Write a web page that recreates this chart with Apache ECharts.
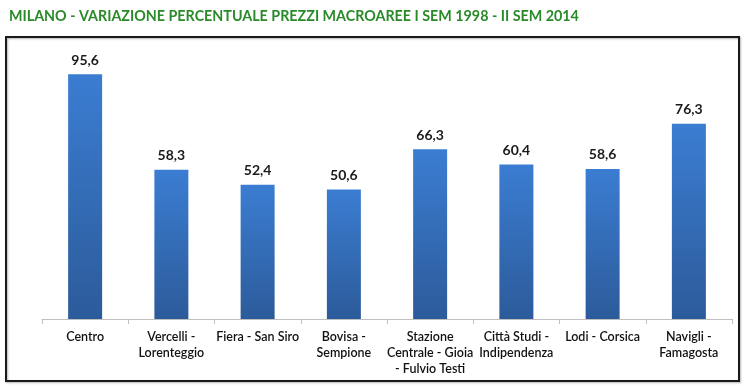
<!DOCTYPE html>
<html>
<head>
<meta charset="utf-8">
<script src="https://cdn.jsdelivr.net/npm/echarts@6/dist/echarts.min.js"></script>
<style>html,body{margin:0;padding:0;background:#fff}#c{width:744px;height:388px}</style>
</head>
<body>
<div id="c"></div>
<script>
var titleText = 'MILANO - VARIAZIONE PERCENTUALE PREZZI MACROAREE I SEM 1998 - II SEM 2014';
var categories = ['Centro', 'Vercelli -\nLorenteggio', 'Fiera - San Siro', 'Bovisa -\nSempione', 'Stazione\nCentrale - Gioia\n- Fulvio Testi', 'Città Studi -\nIndipendenza', 'Lodi - Corsica', 'Navigli -\nFamagosta'];
var values = [95.6, 58.3, 52.4, 50.6, 66.3, 60.4, 58.6, 76.3];

var chart = echarts.init(document.getElementById('c'), null, {renderer: 'canvas'});
chart.setOption({
  animation: false,
  backgroundColor: '#ffffff',
  title: {
    text: titleText,
    left: 4, top: 4,
    textStyle: {fontFamily: 'Lato', fontSize: 14.3, fontWeight: 'bold', color: '#2a8a2a'}
  },
  graphic: [{
    type: 'rect', z: 0,
    shape: {x: 6, y: 37, width: 733, height: 344},
    style: {fill: 'none', stroke: '#1a1a1a', lineWidth: 2, shadowColor: 'rgba(0,0,0,0.3)', shadowBlur: 2, shadowOffsetX: 1, shadowOffsetY: 1}
  }],
  grid: {left: 42, right: 12, top: 63, bottom: 69, containLabel: false},
  xAxis: {
    type: 'category',
    data: categories,
    axisLine: {lineStyle: {color: '#bfbfbf', width: 1}},
    axisTick: {show: true, length: 5, lineStyle: {color: '#bfbfbf'}},
    axisLabel: {interval: 0, margin: 10, fontFamily: 'Lato', fontSize: 12.5, fontWeight: 600, color: '#111', lineHeight: 16}
  },
  yAxis: {type: 'value', min: 0, max: 100, show: false, splitLine: {show: false}},
  series: [{
    type: 'bar',
    data: values,
    barWidth: 34,
    itemStyle: {
      color: new echarts.graphic.LinearGradient(0, 0, 0, 1, [
        {offset: 0, color: '#3b7dd2'},
        {offset: 1, color: '#2c5b9a'}
      ])
    },
    label: {
      show: true, position: 'top', distance: 7,
      fontFamily: 'Lato', fontSize: 14, fontWeight: 'bold', color: '#1a1a1a',
      formatter: function (p) { return String(p.value).replace('.', ','); }
    }
  }]
});
</script>
</body>
</html>
